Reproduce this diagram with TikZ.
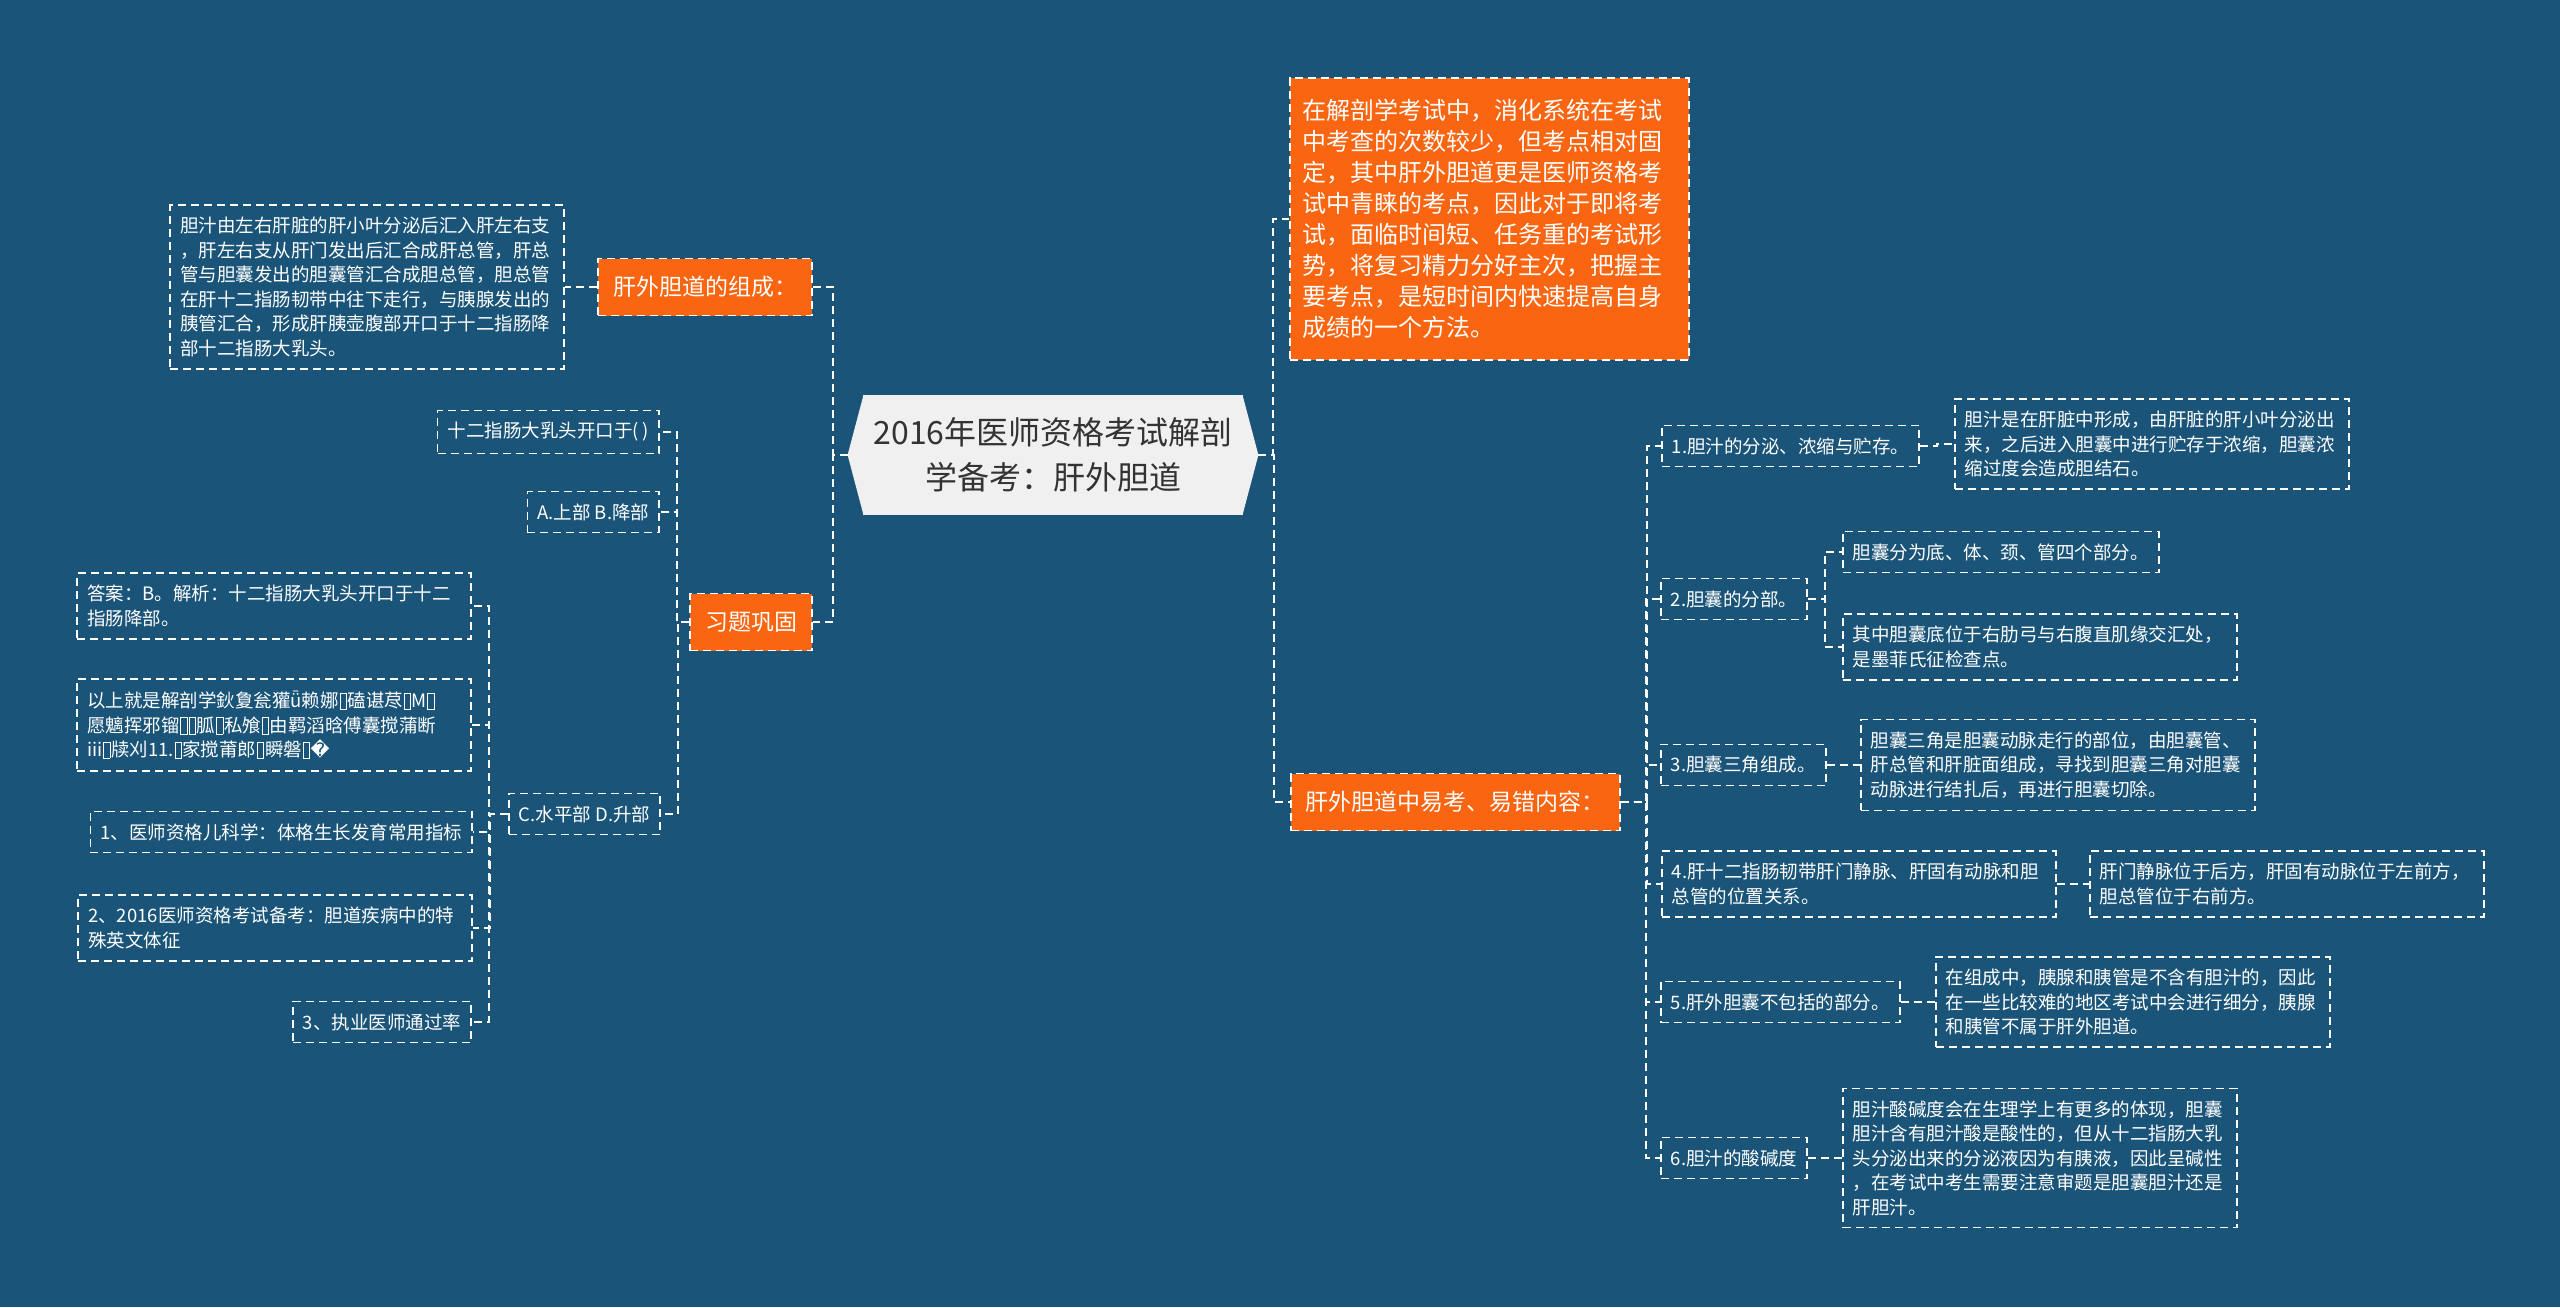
\documentclass[tikz,border=0pt]{standalone}
\usepackage{fontspec}
\setmainfont{Noto Sans CJK SC}
\newfontfamily\symfont{DejaVu Sans}
\usetikzlibrary{calc}

\definecolor{mapbg}{RGB}{26,84,120}
\definecolor{huborange}{RGB}{249,101,16}
\definecolor{titlegray}{RGB}{240,240,240}
\definecolor{titletext}{RGB}{51,51,51}
\newcommand{\leaffont}{\fontsize{9.25}{12.25}\selectfont}
\newcommand{\hubfont}{\fontsize{11.5}{14}\selectfont}
\newcommand{\introfont}{\fontsize{12}{15.5}\selectfont}
\newcommand{\titlefont}{\fontsize{16}{22.5}\selectfont}
\newcommand{\tofu}{\hspace{0.04em}\raisebox{-0.08em}{\setlength{\fboxsep}{0pt}\setlength{\fboxrule}{0.4pt}\fbox{\rule{0pt}{0.85em}\hspace{0.3em}}}\hspace{0.04em}}

\begin{document}
\begin{tikzpicture}[x=0.5pt, y=-0.5pt,
    link/.style={draw=white, line width=0.8pt, dash pattern=on 4pt off 2.5pt},
    leaf/.style={link, text=white, font=\leaffont, align=left, inner xsep=5pt, inner ysep=6pt},
    wide/.style={text width=187pt},
    hub/.style={link, fill=huborange, text=white, font=\hubfont, inner xsep=7.5pt, minimum height=28.5pt},
    titlebox/.style={fill=titlegray, text=titletext, font=\titlefont, align=center, inner sep=0pt, minimum width=190pt, minimum height=60pt}]
\fill[mapbg] (0,0) rectangle (2560,1307);
\useasboundingbox (0,0) rectangle (2560,1307);

\node[titlebox] (title) at (1053,455) {2016年医师资格考试解剖\\学备考：肝外胆道};
\coordinate (tipl) at ($(title.west)+(-15,0)$);
\coordinate (tipr) at ($(title.east)+(15,0)$);
\fill[titlegray] ([xshift=0.5pt]title.north west) -- (tipl) -- ([xshift=0.5pt]title.south west) -- cycle;
\fill[titlegray] ([xshift=-0.5pt]title.north east) -- (tipr) -- ([xshift=-0.5pt]title.south east) -- cycle;

\node[hub, anchor=east] (zc) at (813,287) {肝外胆道的组成：};
\node[leaf, wide, anchor=east] (b1) at (565,287) {胆汁由左右肝脏的肝小叶分泌后汇入肝左右支\\，肝左右支从肝门发出后汇合成肝总管，肝总\\管与胆囊发出的胆囊管汇合成胆总管，胆总管\\在肝十二指肠韧带中往下走行，与胰腺发出的\\胰管汇合，形成肝胰壶腹部开口于十二指肠降\\部十二指肠大乳头。};
\node[hub, anchor=east] (xt) at (813,622) {习题巩固};
\node[leaf, anchor=east] (q1) at (660,432) {十二指肠大乳头开口于( )};
\node[leaf, anchor=east] (qa) at (660,512) {A.上部 B.降部};
\node[leaf, anchor=east] (qc) at (661,814) {C.水平部 D.升部};
\node[leaf, wide, anchor=east] (ans) at (472,606) {答案：B。解析：十二指肠大乳头开口于十二\\指肠降部。};
\node[leaf, wide, anchor=east] (yi) at (472,725) {以上就是解剖学鈥夐瓮獾ǖ赖娜\tofu 磕谌荩\tofu M\tofu\\愿魑挥邪镏\tofu\tofu 胍\tofu 私飧\tofu 由羁滔晗傅囊搅蒲断\\iii\tofu 牍刈11.\tofu 家搅莆郎\tofu 瞬磐\tofu{\symfont �}};
\node[leaf, anchor=east] (r1) at (473,832) {1、医师资格儿科学：体格生长发育常用指标};
\node[leaf, wide, anchor=east] (r2) at (473,928) {2、2016医师资格考试备考：胆道疾病中的特\\殊英文体征};
\node[leaf, anchor=east] (r3) at (472,1022) {3、执业医师通过率};

\node[hub, font=\introfont, text width=186.5pt, align=left, inner xsep=6.5pt, inner ysep=10.5pt, anchor=west] (intro) at (1289,219) {在解剖学考试中，消化系统在考试\\中考查的次数较少，但考点相对固\\定，其中肝外胆道更是医师资格考\\试中青睐的考点，因此对于即将考\\试，面临时间短、任务重的考试形\\势，将复习精力分好主次，把握主\\要考点，是短时间内快速提高自身\\成绩的一个方法。};
\node[hub, anchor=west] (yk) at (1290,802) {肝外胆道中易考、易错内容：};

\node[leaf, anchor=west] (p1) at (1661,446) {1.胆汁的分泌、浓缩与贮存。};
\node[leaf, wide, anchor=west] (c1) at (1954,444) {胆汁是在肝脏中形成，由肝脏的肝小叶分泌出\\来，之后进入胆囊中进行贮存于浓缩，胆囊浓\\缩过度会造成胆结石。};
\node[leaf, anchor=west] (p2) at (1660,599) {2.胆囊的分部。};
\node[leaf, anchor=west] (c2a) at (1842,552) {胆囊分为底、体、颈、管四个部分。};
\node[leaf, wide, anchor=west] (c2b) at (1842,647) {其中胆囊底位于右肋弓与右腹直肌缘交汇处，\\是墨菲氏征检查点。};
\node[leaf, anchor=west] (p3) at (1660,765) {3.胆囊三角组成。};
\node[leaf, wide, anchor=west] (c3) at (1860,765) {胆囊三角是胆囊动脉走行的部位，由胆囊管、\\肝总管和肝脏面组成，寻找到胆囊三角对胆囊\\动脉进行结扎后，再进行胆囊切除。};
\node[leaf, wide, anchor=west] (p4) at (1661,884) {4.肝十二指肠韧带肝门静脉、肝固有动脉和胆\\总管的位置关系。};
\node[leaf, wide, anchor=west] (c4) at (2089,884) {肝门静脉位于后方，肝固有动脉位于左前方，\\胆总管位于右前方。};
\node[leaf, anchor=west] (p5) at (1660,1002) {5.肝外胆囊不包括的部分。};
\node[leaf, wide, anchor=west] (c5) at (1935,1002) {在组成中，胰腺和胰管是不含有胆汁的，因此\\在一些比较难的地区考试中会进行细分，胰腺\\和胰管不属于肝外胆道。};
\node[leaf, anchor=west] (p6) at (1660,1158) {6.胆汁的酸碱度};
\node[leaf, wide, anchor=west] (c6) at (1842,1158) {胆汁酸碱度会在生理学上有更多的体现，胆囊\\胆汁含有胆汁酸是酸性的，但从十二指肠大乳\\头分泌出来的分泌液因为有胰液，因此呈碱性\\，在考试中考生需要注意审题是胆囊胆汁还是\\肝胆汁。};

\foreach \n in {zc,xt}
    \draw[link] (tipl) -| ($(\n.east)+(20,0)$) -- (\n.east);
\draw[link] (zc.west) -- (b1.east);
\foreach \n in {q1,qa,qc}
    \draw[link] (xt.west) -| ($(\n.east)+(17,0)$) -- (\n.east);
\foreach \n in {ans,yi,r1,r2,r3}
    \draw[link] (qc.west) -| ($(\n.east)+(17,0)$) -- (\n.east);
\foreach \n in {intro,yk}
    \draw[link] (tipr) -| ($(\n.west)+(-16,0)$) -- (\n.west);
\foreach \n in {p1,p2,p3,p4,p5,p6}
    \draw[link] (yk.east) -| ($(\n.west)+(-14,0)$) -- (\n.west);
\foreach \a/\b in {p1/c1,p2/c2a,p2/c2b,p3/c3,p4/c4,p5/c5,p6/c6}
    \draw[link] (\a.east) -| ($(\b.west)+(-17,0)$) -- (\b.west);
\end{tikzpicture}
\end{document}
